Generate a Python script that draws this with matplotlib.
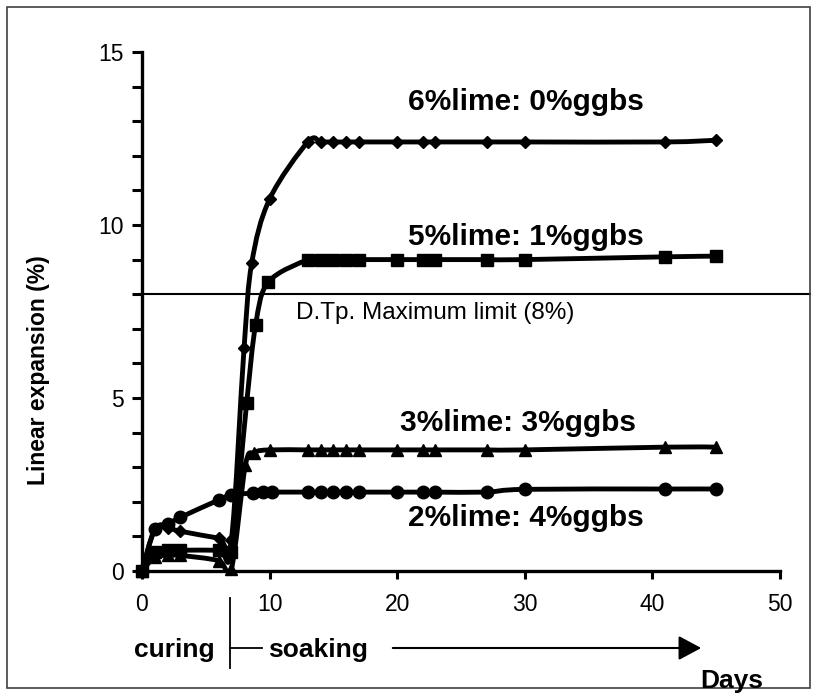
import numpy as np
import matplotlib.pyplot as plt
from matplotlib.path import Path
from matplotlib.patches import PathPatch, Rectangle
from matplotlib.ticker import MultipleLocator

plt.rcParams['font.family'] = ['Liberation Sans', 'DejaVu Sans']

# days after compaction (7 days curing, then soaking)
late_days = [13, 14, 15, 16, 17, 20, 22, 23, 27, 30, 41, 45]

days_6lime = [0, 1, 2, 3, 6, 7, 8, 8.6, 10] + late_days
exp_6lime = [0, 1.2, 1.25, 1.15, 0.95, 0.9, 6.45, 8.9, 10.75,
             12.4, 12.4, 12.4, 12.4, 12.4, 12.4, 12.4, 12.4, 12.4, 12.4, 12.4, 12.45]

days_5lime = [0, 1, 2, 3, 6, 7, 8.2, 8.9, 9.9] + late_days
exp_5lime = [0, 0.55, 0.6, 0.6, 0.6, 0.55, 4.85, 7.1, 8.35,
             9.0, 9.0, 9.0, 9.0, 9.0, 9.0, 9.0, 9.0, 9.0, 9.0, 9.08, 9.1]

days_3lime = [0, 1, 2, 3, 6, 7, 8.1, 8.8, 10] + late_days
exp_3lime = [0, 0.4, 0.45, 0.45, 0.3, 0.05, 3.05, 3.42, 3.5,
             3.5, 3.5, 3.5, 3.5, 3.5, 3.5, 3.5, 3.5, 3.5, 3.5, 3.58, 3.58]

days_2lime = [0, 1, 2, 3, 6, 7, 8.7, 9.5, 10.2] + late_days
exp_2lime = [0, 1.2, 1.35, 1.55, 2.05, 2.2, 2.25, 2.27, 2.28,
             2.28, 2.28, 2.28, 2.28, 2.28, 2.28, 2.28, 2.28, 2.28, 2.36, 2.37, 2.37]

labels = ["6%lime: 0%ggbs", "5%lime: 1%ggbs", "3%lime: 3%ggbs", "2%lime: 4%ggbs"]
limit = 8


def smooth_path(xs, ys):
    # Excel-like smoothed line: Catmull-Rom through the points, as cubic beziers
    p = np.column_stack([xs, ys]).astype(float)
    n = len(p)
    verts = [p[0]]
    codes = [Path.MOVETO]
    for i in range(n - 1):
        p0 = p[i - 1] if i > 0 else p[i]
        p1, p2 = p[i], p[i + 1]
        p3 = p[i + 2] if i + 2 < n else p[i + 1]
        verts += [p1 + (p2 - p0) / 6, p2 - (p3 - p1) / 6, p2]
        codes += [Path.CURVE4] * 3
    return Path(verts, codes)


fig = plt.figure(figsize=(8.17, 6.94), dpi=100)
ax = fig.add_axes([142 / 817, 1 - 571 / 694, 638 / 817, 519 / 694])

series = [(days_6lime, exp_6lime, "D", 6),
          (days_5lime, exp_5lime, "s", 9),
          (days_3lime, exp_3lime, "^", 9),
          (days_2lime, exp_2lime, "o", 9)]
for xs, ys, mk, ms in series:
    ax.add_patch(PathPatch(smooth_path(xs, ys), fill=False, ec="black", lw=3.5,
                           capstyle="round", joinstyle="round"))
    ax.plot(xs, ys, ls="none", marker=mk, ms=ms, color="black", clip_on=False, zorder=3)

ax.axhline(limit, xmin=0, xmax=(810 - 142) / 638, color="black", lw=1.5, clip_on=False)
ax.text(12.1, 7.45, "D.Tp. Maximum limit (8%)", fontsize=17.5, va="center", ha="left")

label_pos = [(20.85, 13.55), (20.85, 9.65), (20.2, 4.28), (20.85, 1.53)]
for lab, (lx, ly) in zip(labels, label_pos):
    ax.text(lx, ly, lab, fontsize=21.5, fontweight="bold", va="center", ha="left")

ax.set_xlim(0, 50)
ax.set_ylim(0, 15)
ax.set_xticks([0, 10, 20, 30, 40, 50])
ax.set_yticks([0, 5, 10, 15])
ax.yaxis.set_minor_locator(MultipleLocator(1))
for s in ["top", "right"]:
    ax.spines[s].set_visible(False)
for s in ["left", "bottom"]:
    ax.spines[s].set_linewidth(2.4)
ax.tick_params(axis="y", which="both", length=7, width=2.2, labelsize=16.5, pad=6)
ax.tick_params(axis="x", which="both", length=6, width=2.2, labelsize=16.5, pad=10)
ax.set_ylabel("Linear expansion (%)", fontsize=16.5, fontweight="bold")
ax.yaxis.set_label_coords((50 - 142) / 638, (571 - 370) / 519)

# curing / soaking annotation under the x axis (figure pixel positions)
def fx(px):
    return px / 817


def fy(py):
    return 1 - py / 694


fig.add_artist(plt.Line2D([fx(230), fx(230)], [fy(598), fy(668)], color="black", lw=1.3))
fig.add_artist(plt.Line2D([fx(230), fx(262)], [fy(648), fy(648)], color="black", lw=1.3))
fig.text(fx(134), fy(650), "curing", fontsize=19, fontweight="bold", va="center", ha="left")
fig.text(fx(268), fy(650), "soaking", fontsize=19, fontweight="bold", va="center", ha="left")
ax.annotate("", xy=(fx(704), fy(648)), xytext=(fx(390), fy(648)), xycoords="figure fraction",
            textcoords="figure fraction",
            arrowprops=dict(arrowstyle="-|>,head_length=1.4,head_width=0.75", color="black", lw=1.5))
fig.text(fx(700), fy(681), "Days", fontsize=19, fontweight="bold", va="center", ha="left")

fig.patches.append(Rectangle((fx(7), fy(688)), (810 - 7) / 817, (688 - 7) / 694,
                             transform=fig.transFigure, fill=False, ec="#404040", lw=1.2))

fig.savefig("out.png", dpi=100)
